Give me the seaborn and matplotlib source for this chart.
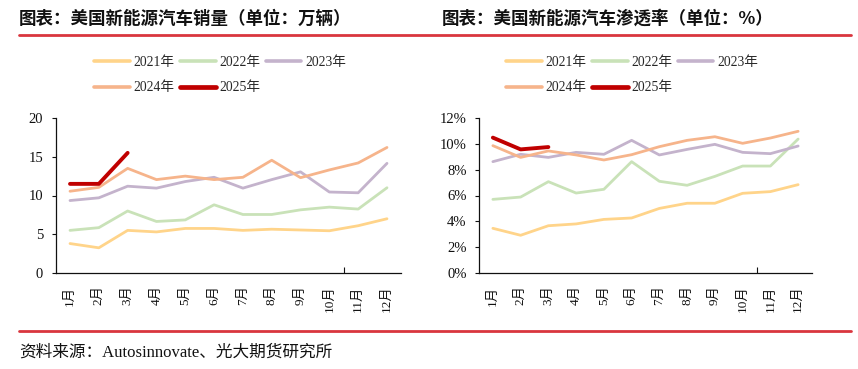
import numpy as np
import pandas as pd
import seaborn as sns
import matplotlib
matplotlib.use("Agg")
import matplotlib.pyplot as plt
from matplotlib.lines import Line2D
from matplotlib.ticker import FuncFormatter, FixedLocator

# ---------------- data ----------------
months = ["1月", "2月", "3月", "4月", "5月", "6月", "7月", "8月", "9月", "10月", "11月", "12月"]
years = ["2021年", "2022年", "2023年", "2024年", "2025年"]

# 美国新能源汽车销量（万辆）
sales_2021 = [3.8, 3.25, 5.5, 5.3, 5.75, 5.75, 5.5, 5.65, 5.55, 5.45, 6.1, 7.0]
sales_2022 = [5.5, 5.85, 8.0, 6.65, 6.85, 8.8, 7.55, 7.55, 8.15, 8.5, 8.25, 11.0]
sales_2023 = [9.35, 9.7, 11.2, 10.95, 11.8, 12.35, 10.95, 12.05, 13.05, 10.45, 10.35, 14.15]
sales_2024 = [10.55, 11.05, 13.5, 12.05, 12.5, 12.05, 12.35, 14.55, 12.3, 13.3, 14.2, 16.2]
sales_2025 = [11.5, 11.5, 15.5]

# 美国新能源汽车渗透率（%）
pen_2021 = [3.46, 2.92, 3.66, 3.8, 4.15, 4.26, 5.0, 5.4, 5.4, 6.17, 6.3, 6.84]
pen_2022 = [5.7, 5.88, 7.07, 6.19, 6.48, 8.62, 7.1, 6.79, 7.48, 8.28, 8.28, 10.37]
pen_2023 = [8.62, 9.19, 8.95, 9.34, 9.19, 10.27, 9.14, 9.57, 9.96, 9.34, 9.24, 9.83]
pen_2024 = [9.86, 8.95, 9.45, 9.14, 8.75, 9.16, 9.78, 10.27, 10.55, 10.04, 10.45, 10.97]
pen_2025 = [10.48, 9.57, 9.75]

title_left = "图表：美国新能源汽车销量（单位：万辆）"
title_right = "图表：美国新能源汽车渗透率（单位：%）"
source_text = "资料来源：Autosinnovate、光大期货研究所"

colors = {"2021年": "#FFD48A", "2022年": "#C9E2B8", "2023年": "#C4B3CC",
          "2024年": "#F6B48B", "2025年": "#C00000"}
widths = {"2021年": 2.0, "2022年": 2.0, "2023年": 2.0, "2024年": 2.0, "2025年": 2.8}


def to_long(series):
    rows = []
    for yr, vals in zip(years, series):
        for i, v in enumerate(vals):
            rows.append({"year": yr, "month": i + 1, "value": v})
    return pd.DataFrame(rows)


df_sales = to_long([sales_2021, sales_2022, sales_2023, sales_2024, sales_2025])
df_pen = to_long([pen_2021, pen_2022, pen_2023, pen_2024, pen_2025])

# ---------------- style ----------------
sns.set_theme(style="white")
plt.rcParams["font.family"] = ["Liberation Serif", "Noto Sans CJK SC", "DejaVu Sans"]
plt.rcParams["axes.unicode_minus"] = False

fig = plt.figure(figsize=(8.58, 3.69), dpi=100)
W, H = 858, 369


def fx(px):
    return px / W


def fy(py):
    return 1 - py / H


ax1 = fig.add_axes([fx(55.6), fy(273), fx(401.4) - fx(55.6), (273 - 118) / H])
ax2 = fig.add_axes([fx(479), fy(273), fx(812) - fx(479), (273 - 118) / H])

for ax, df, ylim, yticks, fmt in [
    (ax1, df_sales, (0, 20), [0, 5, 10, 15, 20], lambda v, p: f"{v:.0f}"),
    (ax2, df_pen, (0, 12), [0, 2, 4, 6, 8, 10, 12], lambda v, p: f"{v:.0f}%"),
]:
    sns.lineplot(data=df, x="month", y="value", hue="year", palette=colors,
                 size="year", sizes=widths, hue_order=years, size_order=years,
                 legend=False, ax=ax)
    ax.set_xlim(0.5, 12.5)
    ax.set_ylim(*ylim)
    ax.set_yticks(yticks)
    ax.yaxis.set_major_formatter(FuncFormatter(fmt))
    ax.set_xticks(range(1, 13))
    ax.set_xticklabels(months, rotation=90, fontsize=9.5,
                       family=["Liberation Serif", "Noto Sans CJK SC"])
    ax.xaxis.set_minor_locator(FixedLocator([10.5]))
    ax.tick_params(axis="x", which="major", length=0, pad=9, colors="#111111")
    ax.tick_params(axis="x", which="minor", direction="in", length=4, width=0.8,
                   color="#111111", bottom=True)
    ax.tick_params(axis="y", which="major", direction="out", length=3, width=0.8,
                   pad=6, labelsize=10.5, colors="#111111", left=True)
    ax.set_xlabel("")
    ax.set_ylabel("")
    for s in ["top", "right"]:
        ax.spines[s].set_visible(False)
    for s in ["left", "bottom"]:
        ax.spines[s].set_color("#111111")
        ax.spines[s].set_linewidth(0.9)
    ax.grid(False)
    for lab in ax.get_yticklabels():
        lab.set_family(["Liberation Serif", "Noto Sans CJK SC"])

# ---------------- legends ----------------
order = ["2021年", "2024年", "2022年", "2025年", "2023年"]
handles = [Line2D([0], [0], color=colors[y], lw=widths[y] + 0.6) for y in order]
for cx in [fx(220), fx(632)]:
    fig.legend(handles, order, loc="center", bbox_to_anchor=(cx, fy(75)), ncol=3,
               frameon=False, handlelength=2.6, handletextpad=0.25,
               columnspacing=0.45, labelspacing=0.95,
               prop={"family": ["Liberation Serif", "Noto Sans CJK SC"], "size": 9.8})

# ---------------- titles / decorations ----------------
fig.text(fx(19), fy(19), title_left, ha="left", va="center", fontsize=12.6,
         fontweight="bold", family=["Noto Sans CJK SC", "DejaVu Sans"], color="#111111")
fig.text(fx(442), fy(19), title_right, ha="left", va="center", fontsize=12.6,
         fontweight="bold", family=["Noto Sans CJK SC", "DejaVu Sans"], color="#111111")

fig.add_artist(Line2D([fx(19), fx(851)], [fy(34.5), fy(34.5)], color="#D9363E", lw=2.0))
fig.add_artist(Line2D([fx(19), fx(851)], [fy(330.5), fy(330.5)], color="#D9363E", lw=2.0))

fig.text(fx(19), fy(353), source_text, ha="left", va="center", fontsize=12,
         family=["Liberation Serif", "Noto Sans CJK SC"], color="#111111")

fig.savefig("out.png", dpi=100, facecolor="white")
